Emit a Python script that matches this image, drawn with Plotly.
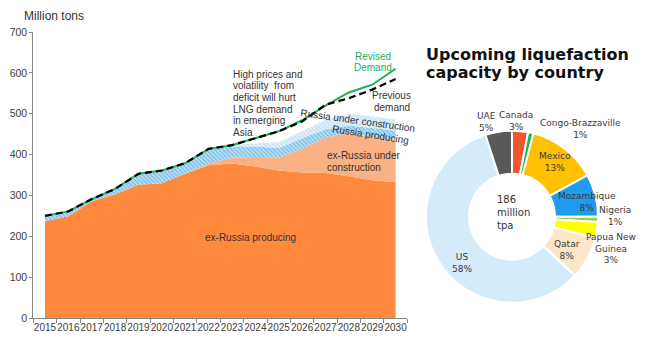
import plotly.graph_objects as go

# ---------------- data ----------------
years = [str(y) for y in range(2015, 2031)]
ex_russia_producing = [237, 249, 286, 303, 326, 330, 353, 374, 378, 371, 361, 356, 355, 347, 337, 332]
ex_russia_under_construction = [0, 0, 0, 0, 0, 0, 0, 4, 15, 23, 32, 58, 87, 106, 106, 103]
russia_producing = [13, 13, 5, 11, 25, 29, 25, 34, 27, 26, 23, 26, 20, 18, 22, 24]
russia_under_construction = [0, 0, 0, 0, 0, 0, 0, 0, 4, 7, 14, 17, 23, 29, 29, 27]
previous_demand = [250, 261, 291, 316, 353, 361, 379, 414, 423, 440, 457, 481, 522, 538, 559, 585]
revised_demand = [250, 261, 291, 316, 353, 361, 379, 414, 423, 440, 457, 484, 520, 552, 571, 610]
y_ticks = [0, 100, 200, 300, 400, 500, 600, 700]

countries = ["Canada", "Congo-Brazzaville", "Mexico", "Mozambique", "Nigeria",
             "Papua New Guinea", "Qatar", "US", "UAE"]
country_label = ["Canada", "Congo-Brazzaville", "Mexico", "Mozambique", "Nigeria",
                 "Papua New<br>Guinea", "Qatar", "US", "UAE"]
shares = [3, 1, 13, 8, 1, 3, 8, 58, 5]
total_capacity = 186

# ---------------- styles ----------------
W, H = 650, 351
pie_colors = ["#f2552f", "#1fb44a", "#ffc000", "#1e9cf0", "#92d050",
              "#ffff00", "#fbe6c9", "#d6ebfa", "#595959"]
label_pos = [(516, 121), (580, 129.5), (555, 161.7), (587, 202.2), (615, 216.2),
             (610.7, 248.3), (567.3, 250.3), (461.7, 262.5), (486, 122.3)]
SANS = "Liberation Sans, Arial, sans-serif"
VER = "DejaVu Sans, Verdana, sans-serif"
TXT = "#333333"


def P(x, y):
    return x / W, 1 - y / H


fig = go.Figure()

area_specs = [
    ("ex-Russia producing", ex_russia_producing, "#ff8a3d", None),
    ("ex-Russia under construction", ex_russia_under_construction, "#fbb183", None),
    ("Russia producing", russia_producing, "#ffffff",
     dict(shape="\\", fgcolor="#3d9ddc", bgcolor="#bfe1f6", size=3, solidity=0.5)),
    ("Russia under construction", russia_under_construction, "#ffffff",
     dict(shape="\\", fgcolor="#a3d4f1", bgcolor="#e4f3fc", size=3, solidity=0.5)),
]
for name, vals, col, pat in area_specs:
    kw = dict(x=years, y=vals, name=name, mode="lines", stackgroup="s",
              line=dict(width=0, color=col), fillcolor=col, hoverinfo="skip",
              xaxis="x", yaxis="y")
    if pat:
        kw["fillpattern"] = pat
    fig.add_trace(go.Scatter(**kw))

fig.add_trace(go.Scatter(x=years, y=revised_demand, mode="lines", name="Revised Demand",
                         line=dict(color="#1fae55", width=2), hoverinfo="skip"))
fig.add_trace(go.Scatter(x=years, y=previous_demand, mode="lines", name="Previous demand",
                         line=dict(color="#000000", width=2.2, dash="7px,4px"), hoverinfo="skip"))

fig.add_trace(go.Pie(
    labels=countries, values=shares, sort=False, direction="clockwise", rotation=0,
    hole=0.5, textinfo="none", hoverinfo="skip",
    marker=dict(colors=pie_colors, line=dict(color="white", width=2)),
    domain=dict(x=[426 / W, 598 / W], y=[(H - 302.7) / H, (H - 130.7) / H]),
    showlegend=False,
))

ann = []


def txt(x, y, s, size=10, color=TXT, family=SANS, xanchor="center", angle=0, align="center"):
    ax, ay = P(x, y)
    ann.append(dict(x=ax, y=ay, xref="paper", yref="paper", text=s, showarrow=False,
                    xanchor=xanchor, yanchor="middle", align=align, textangle=angle,
                    font=dict(size=size, color=color, family=family)))


# left chart text
txt(22, 16, "Million tons", size=12, xanchor="left")
for i, line in enumerate(["High prices and", "volatility  from", "deficit will hurt",
                          "LNG demand", "in emerging", "Asia"]):
    txt(231, 74 + i * 11.7, line, xanchor="left")
txt(373.3, 56, "Revised", color="#1fae55")
txt(373.3, 67.7, "Demand", color="#1fae55")
txt(391.5, 95.7, "Previous")
txt(391.5, 107.3, "demand")
txt(357.7, 120.5, "Russia under construction", angle=8)
txt(370, 134, "Russia producing", angle=9)
txt(325, 155.7, "ex-Russia under", xanchor="left")
txt(325, 167, "construction", xanchor="left")
txt(250, 237.3, "ex-Russia producing")

# arrow
ann.append(dict(x="2025", y=445, ax="2025", ay=524, xref="x", yref="y", axref="x", ayref="y",
                text="", showarrow=True, arrowhead=2, arrowsize=0.9, arrowwidth=1,
                arrowcolor="#000000"))

# right title
txt(424, 54.5, "<b>Upcoming liquefaction</b>", size=16, color="#111111", family=VER, xanchor="left")
txt(424, 72.8, "<b>capacity by country</b>", size=16, color="#111111", family=VER, xanchor="left")

# pie labels
for lab, sh, (lx, ly) in zip(country_label, shares, label_pos):
    txt(lx, ly, f"{lab}<br>{sh}%", size=9, color="#3a3a3a", family=VER)
txt(495, 212.3, f"{total_capacity}<br>million<br>tpa", size=10, color="#333333", family=VER,
    xanchor="left", align="left")

fig.update_layout(
    width=W, height=H, margin=dict(l=0, r=0, t=0, b=0, autoexpand=False),
    paper_bgcolor="white", plot_bgcolor="white", showlegend=False,
    annotations=ann,
    xaxis=dict(type="category", domain=[33.3 / W, 407.3 / W], range=[-0.5, 15.5],
               tickson="boundaries", ticks="outside", ticklen=4, tickcolor="#868686",
               showline=True, linecolor="#868686", linewidth=1, showgrid=False,
               tickangle=0, automargin=False,
               tickfont=dict(size=10, color="#404040", family=SANS), fixedrange=True),
    yaxis=dict(domain=[(H - 318) / H, (H - 32) / H], range=[0, 700], tickvals=y_ticks,
               ticks="outside", ticklen=3, tickcolor="#868686", showline=True,
               linecolor="#868686", linewidth=1, showgrid=False, zeroline=False,
               automargin=False,
               tickfont=dict(size=10.5, color="#404040", family=SANS), fixedrange=True),
)

fig.write_html("out.html")
